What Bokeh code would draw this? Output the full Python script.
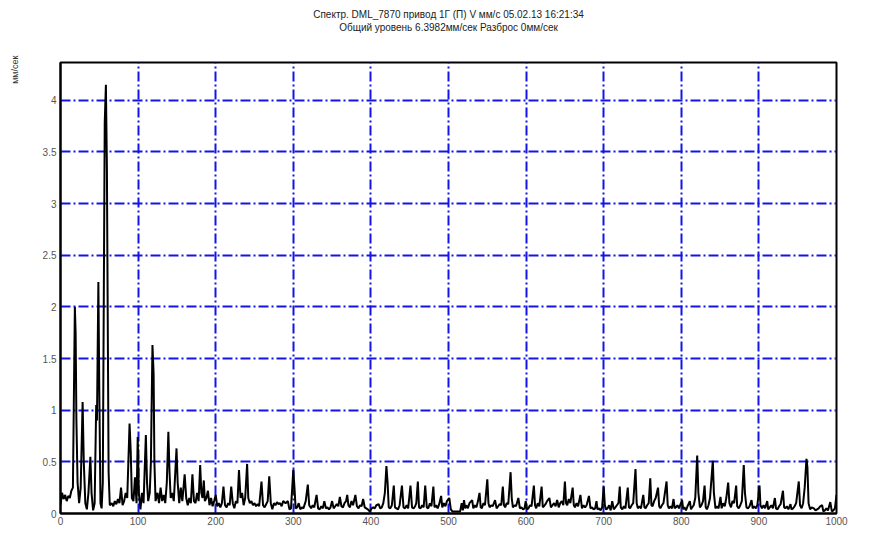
from bokeh.plotting import figure
from bokeh.models import Range1d, Title, FixedTicker, ColumnDataSource
from bokeh.embed import file_html
from bokeh.resources import INLINE

title_line1 = "Спектр. DML_7870 привод 1Г (П) V мм/с 05.02.13 16:21:34"
title_line2 = "Общий уровень 6.3982мм/сек Разброс 0мм/сек"
y_label = "мм/сек"

x_ticks = [0, 100, 200, 300, 400, 500, 600, 700, 800, 900, 1000]
y_ticks = [0, 0.5, 1, 1.5, 2, 2.5, 3, 3.5, 4]

freq = [0, 2, 4, 6, 8, 10, 12, 14, 16, 18.5, 19.5, 20.5, 22, 24, 26, 28.5, 30, 32, 34, 36,
        38.5, 40, 42, 44, 46, 47, 48.8, 50, 51.5, 53, 54.5, 55.8, 57, 58.5, 59.8, 61, 62, 63.5,
        66, 68, 70, 72, 74, 76, 78, 80, 82, 84, 86, 89, 90.5, 92, 94, 96, 98, 99.5, 101, 103,
        105, 107, 110, 111.5, 113, 115, 116.5, 118.5, 120, 121, 122.5, 125, 127, 129, 131, 133,
        135, 137, 139, 140.5, 142, 144, 146, 149.5, 151, 153, 155, 157, 160, 162, 164, 166, 168,
        170, 172, 174, 176, 178, 180, 181.5, 183, 184.7, 186, 188, 190, 192, 194, 196, 198, 200,
        202, 204, 206, 208, 210, 212, 214, 216, 218, 220, 222, 224, 226, 228, 230, 232, 234, 236,
        238, 240.5, 242, 244, 246, 248, 250, 252, 254, 256, 259, 261, 263, 265, 267, 269, 271, 273,
        275, 277, 279, 281, 283, 285, 287, 290, 293, 295, 297, 300, 301.5, 303, 305, 307, 309,
        311, 313, 316, 318.7, 320.5, 323, 325, 327, 330, 332, 334, 336, 338, 340, 342, 344, 346,
        348, 350, 352, 354, 356, 358, 360, 362, 364, 366, 368, 369.5, 371, 373, 375, 377, 380,
        382, 384, 386, 388, 390, 392, 394, 396, 398.6, 401, 403, 405, 407, 410, 412, 414, 416,
        418, 420, 421.5, 423, 425, 427, 429.5, 431, 433, 435, 437, 440, 442, 444, 446, 448, 451,
        453, 455, 457, 458.5, 460.5, 462, 464, 466, 468, 470, 472, 474, 476, 478, 480.5, 482, 484,
        486, 488, 490.5, 492, 494, 496, 498, 501, 503, 505, 507, 515, 517, 518.5, 520, 521.5, 523,
        525, 527, 530.5, 532, 534, 536, 538, 540, 541.5, 543, 545, 547, 550, 551.5, 553, 555, 557,
        560, 562, 564, 566, 568, 570, 571.5, 573, 575, 577, 580, 581.5, 583, 585, 587, 590, 592,
        594, 596, 598, 599.5, 601, 603, 605, 607, 610, 611.5, 613, 615, 617, 620, 621.5, 623, 625,
        627, 630, 632, 634, 636, 638, 640, 642, 644, 646, 648, 650, 651.5, 653, 655, 657, 660,
        661.5, 663, 665, 667, 670, 672, 674, 676, 678, 681, 683, 685, 687, 689, 690.7, 692, 694,
        696, 698, 700, 701.5, 703, 705, 707, 709, 711, 713, 715, 717, 719, 720.7, 722, 724, 726,
        728, 731, 732.5, 734, 736, 738, 741, 742.5, 744, 746, 748, 751, 752.5, 754, 756, 758, 760,
        761.5, 763, 765, 767, 770, 771.5, 773, 775, 777, 781, 782.5, 784, 786, 788, 790, 791.5,
        793, 795, 797, 801, 802.5, 804, 806, 808, 811, 812.5, 814, 816, 818, 820.5, 822, 824, 826,
        828, 830, 831.5, 833, 835, 837, 840.6, 842, 844, 846, 848, 850.5, 852, 854, 856, 858,
        860.4, 862, 864, 866, 868, 870.7, 872, 874, 876, 878, 880.5, 882, 884, 886, 888, 890.5,
        892, 894, 896, 898, 900.8, 902, 904, 906, 908, 910.7, 912, 914, 916, 918, 920.6, 922, 924,
        926, 928, 931, 932.5, 934, 936, 938, 940.7, 942, 944, 946, 948, 951.4, 953, 955, 957, 959,
        961.3, 962.5, 964, 966, 968, 970.8, 973, 975, 977, 979, 981.5, 983, 985, 987, 989, 992,
        994, 996, 998, 1000]

amp = [0.08, 0.20, 0.14, 0.18, 0.12, 0.17, 0.15, 0.22, 0.25, 2.0, 1.75, 0.9, 0.3, 0.1, 0.25, 1.08, 0.5, 0.1, 0.04, 0.2,
       0.55, 0.2, 0.03, 0.1, 1.05, 0.9, 2.24, 1.2, 0.1, 0.05, 0.3, 2.1, 3.78, 4.15, 3.35, 1.72, 0.4, 0.08,
       0.1, 0.07, 0.12, 0.09, 0.14, 0.1, 0.25, 0.08, 0.12, 0.2, 0.15, 0.87, 0.6, 0.15, 0.12, 0.35, 0.1, 0.74, 0.2, 0.04,
       0.2, 0.1, 0.76, 0.3, 0.12, 0.2, 0.5, 1.63, 1.35, 0.5, 0.12, 0.2, 0.1, 0.25, 0.12, 0.18,
       0.1, 0.3, 0.79, 0.4, 0.15, 0.2, 0.12, 0.63, 0.3, 0.1, 0.25, 0.12, 0.38, 0.15, 0.08, 0.15, 0.1,
       0.38, 0.12, 0.1, 0.2, 0.12, 0.47, 0.2, 0.15, 0.32, 0.12, 0.15, 0.22, 0.08, 0.15, 0.07, 0.12, 0.18,
       0.07, 0.1, 0.06, 0.1, 0.26, 0.08, 0.06, 0.1, 0.08, 0.26, 0.1, 0.05, 0.12, 0.1, 0.42, 0.15, 0.2, 0.08,
       0.15, 0.48, 0.15, 0.1, 0.12, 0.08, 0.1, 0.07, 0.09, 0.07, 0.31, 0.08, 0.06, 0.09, 0.12, 0.36, 0.1, 0.04,
       0.1, 0.08, 0.11, 0.09, 0.1, 0.07, 0.12, 0.1, 0.12, 0.04, 0.05, 0.42, 0.25, 0.05, 0.06, 0.1, 0.04,
       0.06, 0.05, 0.12, 0.28, 0.08, 0.05, 0.08, 0.06, 0.18, 0.05, 0.04, 0.07, 0.05, 0.12, 0.05, 0.06, 0.04,
       0.06, 0.12, 0.05, 0.07, 0.09, 0.07, 0.16, 0.07, 0.06, 0.1, 0.12, 0.18, 0.08, 0.06, 0.12, 0.08, 0.18,
       0.07, 0.05, 0.08, 0.07, 0.14, 0.06, 0.05, 0.04, 0.02, 0.05, 0.06, 0.05, 0.08, 0.09, 0.05, 0.06, 0.1,
       0.2, 0.46, 0.3, 0.06, 0.05, 0.08, 0.27, 0.06, 0.05, 0.04, 0.08, 0.27, 0.06, 0.05, 0.08, 0.05, 0.27,
       0.06, 0.05, 0.07, 0.1, 0.31, 0.06, 0.05, 0.08, 0.06, 0.27, 0.06, 0.05, 0.1, 0.07, 0.26, 0.06, 0.08,
       0.05, 0.09, 0.17, 0.06, 0.1, 0.07, 0.12, 0.15, 0.04, 0.02, 0.02, 0.02, 0.1, 0.03, 0.13, 0.05, 0.08,
       0.05, 0.1, 0.13, 0.05, 0.08, 0.06, 0.12, 0.2, 0.06, 0.05, 0.1, 0.08, 0.33, 0.1, 0.06, 0.08, 0.07,
       0.13, 0.05, 0.07, 0.09, 0.08, 0.26, 0.08, 0.06, 0.1, 0.09, 0.4, 0.15, 0.06, 0.08, 0.07, 0.15, 0.05,
       0.06, 0.04, 0.05, 0.12, 0.04, 0.05, 0.08, 0.07, 0.27, 0.08, 0.05, 0.1, 0.07, 0.26, 0.06, 0.07, 0.09,
       0.12, 0.15, 0.06, 0.08, 0.1, 0.07, 0.13, 0.06, 0.1, 0.12, 0.08, 0.31, 0.1, 0.08, 0.14, 0.1, 0.25,
       0.08, 0.06, 0.1, 0.07, 0.18, 0.05, 0.08, 0.06, 0.08, 0.17, 0.05, 0.06, 0.04, 0.05, 0.12, 0.04, 0.05,
       0.03, 0.06, 0.26, 0.08, 0.04, 0.05, 0.08, 0.03, 0.12, 0.04, 0.06, 0.08, 0.1, 0.26, 0.06, 0.04, 0.07,
       0.05, 0.25, 0.06, 0.05, 0.08, 0.1, 0.43, 0.1, 0.05, 0.07, 0.05, 0.18, 0.06, 0.05, 0.08, 0.1, 0.34,
       0.08, 0.07, 0.12, 0.15, 0.25, 0.07, 0.05, 0.08, 0.1, 0.31, 0.08, 0.05, 0.07, 0.05, 0.14, 0.05,
       0.06, 0.08, 0.05, 0.13, 0.04, 0.06, 0.03, 0.07, 0.12, 0.04, 0.06, 0.08, 0.15, 0.56, 0.2, 0.06, 0.08,
       0.12, 0.27, 0.06, 0.04, 0.08, 0.15, 0.51, 0.2, 0.05, 0.07, 0.05, 0.16, 0.05, 0.1, 0.07, 0.15,
       0.3, 0.1, 0.06, 0.12, 0.1, 0.27, 0.07, 0.05, 0.08, 0.12, 0.47, 0.2, 0.06, 0.05, 0.07, 0.13,
       0.05, 0.07, 0.05, 0.08, 0.27, 0.08, 0.05, 0.08, 0.05, 0.12, 0.04, 0.06, 0.08, 0.05, 0.15, 0.05, 0.04,
       0.07, 0.09, 0.22, 0.06, 0.05, 0.07, 0.04, 0.09, 0.04, 0.05, 0.07, 0.1, 0.31, 0.08, 0.05, 0.1, 0.25,
       0.53, 0.45, 0.1, 0.04, 0.06, 0.05, 0.03, 0.04, 0.05, 0.07, 0.08, 0.02, 0.03, 0.05, 0.03, 0.11,
       0.02, 0.03, 0.05, 0.18]

assert len(freq) == len(amp), (len(freq), len(amp))

FONT = "Liberation Sans"
GRID_BLUE = "#1414e6"

p = figure(width=876, height=536, output_backend="svg", toolbar_location=None,
           x_range=Range1d(0, 1000), y_range=Range1d(0, 4.366), title=None)
p.min_border_left = 60
p.min_border_right = 40
p.min_border_top = 62
p.min_border_bottom = 23
p.background_fill_color = "white"
p.border_fill_color = "white"
p.outline_line_color = "black"
p.outline_line_width = 2

p.xaxis.ticker = FixedTicker(ticks=x_ticks)
p.yaxis.ticker = FixedTicker(ticks=y_ticks)
p.xaxis.minor_tick_line_color = None
p.yaxis.minor_tick_line_color = None
for ax in (p.xaxis, p.yaxis):
    ax.major_tick_out = 0
    ax.major_tick_in = 0
    ax.axis_line_color = "black"
    ax.axis_line_width = 2
    ax.major_label_text_font = FONT
    ax.major_label_text_font_size = "10px"
    ax.major_label_text_color = "#555555"
p.xaxis.major_label_standoff = 3
p.yaxis.major_label_standoff = 4

for g in (p.xgrid, p.ygrid):
    g.grid_line_color = GRID_BLUE
    g.grid_line_width = 2
    g.grid_line_dash = "10 3 2 3"
    g.grid_line_alpha = 1.0

src = ColumnDataSource(data=dict(f=freq, a=amp))
p.line("f", "a", source=src, line_color="black", line_width=2)

# --- title block above the frame: spacer panel next to frame, then line 2, then line 1
p.add_layout(Title(text=" ", standoff=27, text_font_size="1px"), "above")
p.add_layout(Title(text=title_line2, align="center", offset=4, standoff=0,
                   text_line_height=1.0, vertical_align="bottom",
                   text_font=FONT, text_font_size="10px", text_font_style="normal",
                   text_color="#222222"), "above")
p.add_layout(Title(text=title_line1, align="center", offset=4, standoff=0,
                   text_line_height=1.0, vertical_align="bottom",
                   text_font=FONT, text_font_size="10px", text_font_style="normal",
                   text_color="#222222"), "above")

# --- unit label at top of left side: spacer panel next to the axis, then the label
p.add_layout(Title(text=" ", standoff=17, text_font_size="1px"), "left")
p.add_layout(Title(text=y_label, align="right", standoff=0, offset=-7, vertical_align="bottom",
                   text_font=FONT, text_font_size="9px", text_font_style="normal",
                   text_color="#333333"), "left")

open("out.html", "w").write(file_html(p, INLINE))
